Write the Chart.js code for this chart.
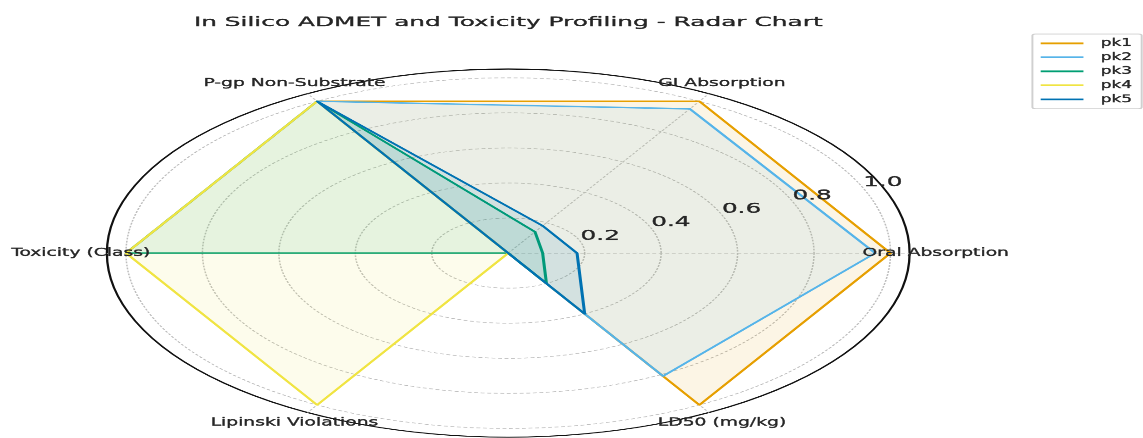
<!DOCTYPE html>
<html>
<head>
<meta charset="utf-8">
<script src="https://cdn.jsdelivr.net/npm/chart.js@4.4.1/dist/chart.umd.min.js"></script>
<style>
  html, body { margin: 0; padding: 0; background: #ffffff; }
  canvas { display: block; }
</style>
</head>
<body>
<!-- Drawn in a 524x438 coordinate space, shown 1143 px wide (horizontally stretched figure) -->
<canvas id="radar" width="524" height="438" style="width:1143px;height:438px"></canvas>
<script>
// Spokes, listed clockwise starting from the right-hand axis
const categories = ['Oral Absorption', 'LD50 (mg/kg)', 'Lipinski Violations', 'Toxicity (Class)', 'P-gp Non-Substrate', 'GI Absorption'];

// Normalised scores per compound, in the same order as categories
const pk1 = [1.0, 1.0, 0, 0, 1.0, 1.0];
const pk2 = [0.96, 0.81, 0, 0, 1.0, 0.95];
const pk3 = [0.09, 0.2, 0, 1.0, 1.0, 0.14];
const pk4 = [0, 0, 1.0, 1.0, 1.0, 0];
const pk5 = [0.18, 0.4, 0, 0, 1.0, 0.18];

const seriesNames = ['pk1', 'pk2', 'pk3', 'pk4', 'pk5'];
const seriesValues = [pk1, pk2, pk3, pk4, pk5];
const seriesColors = ['#E69F00', '#56B4E9', '#009E73', '#F0E442', '#0072B2'];

// Radial axis
const radialTicks = [0.2, 0.4, 0.6, 0.8, 1.0];
const tickLabels = ['0.2', '0.4', '0.6', '0.8', '1.0'];
const radialMax = 1.05;

const chartTitle = 'In Silico ADMET and Toxicity Profiling - Radar Chart';

const FONT = '"DejaVu Sans", Verdana, sans-serif';
const TEXT_COLOR = '#262626';

function withAlpha(hex, a) {
  const n = parseInt(hex.slice(1), 16);
  return `rgba(${(n >> 16) & 255}, ${(n >> 8) & 255}, ${n & 255}, ${a})`;
}

// Text drawn with a horizontal squeeze so glyphs keep the figure's proportions;
// a hairline stroke keeps the strokes from thinning out after the squeeze
function squeezedText(ctx, text, x, y, size, sx, align, baseline, color) {
  ctx.save();
  ctx.translate(x, y);
  ctx.scale(sx, 1);
  ctx.font = `${size}px ${FONT}`;
  ctx.textAlign = align;
  ctx.textBaseline = baseline;
  ctx.fillStyle = color;
  ctx.fillText(text, 0, 0);
  ctx.strokeStyle = color;
  ctx.lineWidth = 0.3;
  ctx.lineJoin = 'round';
  ctx.strokeText(text, 0, 0);
  ctx.restore();
}

// Title, spoke labels, radial tick labels and the boxed legend
const overlay = {
  id: 'overlay',
  afterDraw(chart) {
    const ctx = chart.ctx;
    const r = chart.scales.r;

    squeezedText(ctx, chartTitle, r.xCenter, 26, 13, 0.875, 'center', 'alphabetic', TEXT_COLOR);

    chart.data.labels.forEach((label, i) => {
      const p = r.getPointPosition(i, r.drawingArea + 12);
      squeezedText(ctx, label, p.x, p.y, 11, 0.78, 'center', 'middle', TEXT_COLOR);
    });

    const a = 22.5 * Math.PI / 180;
    radialTicks.forEach((v, i) => {
      const d = r.getDistanceFromCenterForValue(v);
      squeezedText(ctx, tickLabels[i], r.xCenter + d * Math.cos(a) + 0.8, r.yCenter - d * Math.sin(a),
        14, 0.81, 'left', 'alphabetic', TEXT_COLOR);
    });

    // legend box
    const bx = 473.3, by = 34, bw = 50.1, bh = 74.7, rad = 1.5;
    ctx.save();
    ctx.beginPath();
    ctx.moveTo(bx + rad, by);
    ctx.lineTo(bx + bw - rad, by);
    ctx.quadraticCurveTo(bx + bw, by, bx + bw, by + rad);
    ctx.lineTo(bx + bw, by + bh - rad);
    ctx.quadraticCurveTo(bx + bw, by + bh, bx + bw - rad, by + bh);
    ctx.lineTo(bx + rad, by + bh);
    ctx.quadraticCurveTo(bx, by + bh, bx, by + bh - rad);
    ctx.lineTo(bx, by + rad);
    ctx.quadraticCurveTo(bx, by, bx + rad, by);
    ctx.closePath();
    ctx.fillStyle = 'rgba(255,255,255,0.8)';
    ctx.fill();
    ctx.strokeStyle = '#d0d0d0';
    ctx.lineWidth = 0.9;
    ctx.stroke();
    ctx.restore();

    chart.data.datasets.forEach((ds, i) => {
      const y = 43.3 + 14 * i;
      ctx.save();
      ctx.strokeStyle = ds.borderColor;
      ctx.lineWidth = 1.8;
      ctx.beginPath();
      ctx.moveTo(477.1, y);
      ctx.lineTo(496.7, y);
      ctx.stroke();
      ctx.restore();
      squeezedText(ctx, ds.label, 504.6, y, 10.5, 0.74, 'left', 'middle', TEXT_COLOR);
    });
  }
};

const isOuter = (c) => c.tick && c.tick.value >= radialMax - 1e-9;

new Chart(document.getElementById('radar'), {
  type: 'radar',
  data: {
    labels: categories,
    datasets: seriesNames.map((name, i) => ({
      label: name,
      data: seriesValues[i],
      borderColor: seriesColors[i],
      backgroundColor: withAlpha(seriesColors[i], 0.1),
      borderWidth: 1.4,
      borderJoinStyle: 'round',
      pointRadius: 0,
      pointHoverRadius: 0,
      fill: true,
      tension: 0,
      order: seriesNames.length - i
    }))
  },
  options: {
    responsive: false,
    animation: false,
    devicePixelRatio: 1143 / 524,
    layout: { padding: { left: 48, top: 69, right: 106, bottom: -1 } },
    plugins: {
      legend: { display: false },
      title: { display: false },
      tooltip: { enabled: false }
    },
    scales: {
      r: {
        min: 0,
        max: radialMax,
        startAngle: 90,
        afterBuildTicks: (scale) => {
          scale.ticks = [0, ...radialTicks, radialMax].map(v => ({ value: v }));
        },
        ticks: { display: false },
        pointLabels: { display: false },
        grid: {
          circular: true,
          color: (c) => isOuter(c) ? '#111111' : '#bdbdbd',
          lineWidth: (c) => isOuter(c) ? 1.05 : 0.7
        },
        border: {
          dash: (c) => isOuter(c) ? [] : [1.8, 1.2]
        },
        angleLines: {
          color: '#c4c4c4',
          lineWidth: 0.7,
          borderDash: [1.8, 1.2]
        }
      }
    }
  },
  plugins: [overlay]
});
</script>
</body>
</html>
